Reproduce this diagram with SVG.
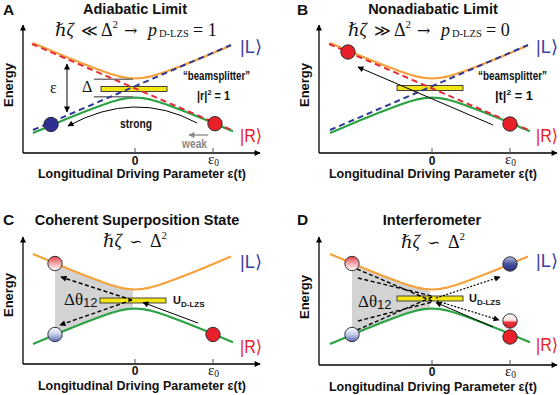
<svg xmlns="http://www.w3.org/2000/svg" xmlns:xlink="http://www.w3.org/1999/xlink" width="560" height="395" viewBox="0 0 560 395">
<style>
.sans{font-family:"Liberation Sans",Arial,sans-serif;font-weight:bold;fill:#111}
.ser{font-family:"Liberation Serif","DejaVu Serif",serif;fill:#111}
.sym{font-family:"DejaVu Serif","Liberation Serif",serif;font-size:16px}
.title{font-size:14.5px;text-anchor:middle}
.plet{font-size:15.5px}
.xl{font-size:12.5px;text-anchor:middle}
.en{font-size:13px;text-anchor:middle}
.ket{font-family:"Liberation Sans","DejaVu Sans",sans-serif;font-size:18px}
.kl{fill:#3b3f9c}
.kr{fill:#e8202a}
.ax{stroke:#000;stroke-width:1.3;fill:none}
.tick{stroke:#555;stroke-width:1}
.up{stroke:#f7a13c;stroke-width:2.2;fill:none;stroke-linejoin:round}
.lo{stroke:#2ca244;stroke-width:2.2;fill:none;stroke-linejoin:round}
.rd{stroke:#e82a35;stroke-width:2;stroke-dasharray:6 4;fill:none}
.bd{stroke:#2f3a96;stroke-width:2;stroke-dasharray:6 4;fill:none}
.bar{fill:#f3e612;stroke:#333;stroke-width:0.9}
.ball{stroke:#222;stroke-width:0.9}
.arr{stroke:#000;stroke-width:1;fill:none}
.darr{stroke:#000;stroke-width:1.4;fill:none;stroke-dasharray:4 2.5}
.dot{stroke:#000;stroke-width:1.2;fill:none;stroke-dasharray:2 1.6}
.shade{fill:#d3d3d3}
</style>
<defs>
<marker id="ah" viewBox="0 0 10 10" refX="9" refY="5" markerWidth="7" markerHeight="6" orient="auto-start-reverse" markerUnits="userSpaceOnUse"><path d="M0,0 L10,5 L0,10 z" fill="#000"/></marker>
<marker id="ahg" viewBox="0 0 10 10" refX="9" refY="5" markerWidth="7" markerHeight="6" orient="auto" markerUnits="userSpaceOnUse"><path d="M0,0 L10,5 L0,10 z" fill="#888"/></marker>
<marker id="axh" viewBox="0 0 10 10" refX="9" refY="5" markerWidth="8" markerHeight="6" orient="auto" markerUnits="userSpaceOnUse"><path d="M0,0 L10,5 L0,10 z" fill="#000"/></marker>
<path id="cUp" class="up" d="M-102,-44.9 L-90,-39.9 L-80,-35.7 L-70,-31.6 L-60,-27.5 L-50,-23.5 L-40,-19.7 L-32,-16.7 L-24,-14 L-16,-11.7 L-8,-10.1 L0,-9.5 L8,-10.1 L16,-11.7 L24,-14 L32,-16.7 L40,-19.7 L50,-23.5 L60,-27.5 L70,-31.6 L80,-35.7 L90,-39.9 L96,-42.4"/>
<path id="cLo" class="lo" d="M-102,44.9 L-90,39.9 L-80,35.7 L-70,31.6 L-60,27.5 L-50,23.5 L-40,19.7 L-32,16.7 L-24,14 L-16,11.7 L-8,10.1 L0,9.5 L8,10.1 L16,11.7 L24,14 L32,16.7 L40,19.7 L50,23.5 L60,27.5 L70,31.6 L80,35.7 L90,39.9 L98,43.2"/>
<path id="cShade" class="shade" d="M-80,-35.7 L-70,-31.6 L-60,-27.5 L-50,-23.5 L-40,-19.7 L-32,-16.7 L-24,-14 L-16,-11.7 L-8,-10.1 L-2,-9.5 L-2,9.5 L-8,10.1 L-16,11.7 L-24,14 L-32,16.7 L-40,19.7 L-50,23.5 L-60,27.5 L-70,31.6 L-80,35.7 Z"/>
<line id="cRd" class="rd" x1="-103" y1="-44" x2="99" y2="43"/>
<line id="cBd" class="bd" x1="-102" y1="42" x2="96" y2="-43"/>
<linearGradient id="gPink" x1="0" y1="0" x2="0" y2="1"><stop offset="0" stop-color="#e4404c"/><stop offset="0.55" stop-color="#f3b3b6"/><stop offset="1" stop-color="#ffffff"/></linearGradient>
<linearGradient id="gLblue" x1="0" y1="0" x2="0" y2="1"><stop offset="0" stop-color="#ffffff"/><stop offset="0.5" stop-color="#c3cbe8"/><stop offset="1" stop-color="#5466b0"/></linearGradient>
<linearGradient id="gHalf" x1="0" y1="0" x2="0" y2="1"><stop offset="0" stop-color="#ffffff"/><stop offset="0.45" stop-color="#fbe0e0"/><stop offset="0.6" stop-color="#e8323c"/><stop offset="1" stop-color="#e02030"/></linearGradient>
<linearGradient id="gDblue" x1="0" y1="0" x2="0" y2="1"><stop offset="0" stop-color="#b8bedc"/><stop offset="0.5" stop-color="#4a529f"/><stop offset="1" stop-color="#262c80"/></linearGradient>
</defs>

<!-- Panel A -->
<g id="panelA">
<text class="sans plet" x="3" y="15">A</text>
<text class="sans title" x="135" y="13.5">Adiabatic Limit</text>
<text class="ser" font-size="18" y="36"><tspan x="55" font-style="italic">ℏζ</tspan><tspan class="sym" x="81">≪</tspan><tspan x="101">Δ</tspan><tspan font-size="11" dy="-8">2</tspan><tspan class="sym" x="124" dy="8">→</tspan><tspan x="148" font-style="italic">p</tspan><tspan x="159" font-size="10.5" dy="1">D-LZS</tspan><tspan x="193" dy="-1">= 1</tspan></text>
<line class="ax" x1="23" y1="153" x2="23" y2="25" marker-end="url(#axh)"/>
<line class="ax" x1="23" y1="153" x2="260" y2="153" marker-end="url(#axh)"/>
<text class="sans en" transform="translate(13,85) rotate(-90)">Energy</text>
<line class="tick" x1="135" y1="148" x2="135" y2="153"/>
<line class="tick" x1="213" y1="148" x2="213" y2="153"/>
<text class="sans" font-size="12" x="135" y="164.5" text-anchor="middle">0</text>
<text class="ser" font-size="15" x="208" y="164">ε<tspan font-size="9.5" dy="2">0</tspan></text>
<text class="sans xl" x="142" y="178">Longitudinal Driving Parameter ε(t)</text>
<use href="#cUp" transform="translate(135,88)"/>
<use href="#cLo" transform="translate(135,88)"/>
<line x1="94" y1="79.3" x2="133" y2="79.3" stroke="#777" stroke-width="1.5"/>
<line x1="94" y1="96.7" x2="133" y2="96.7" stroke="#777" stroke-width="1.5"/>
<rect class="bar" x="101" y="86.5" width="66" height="5"/>
<use href="#cRd" transform="translate(135,88)"/>
<use href="#cBd" transform="translate(135,88)"/>
<circle class="ball" cx="51" cy="124.5" r="7.2" fill="#2e3192"/>
<circle class="ball" cx="215" cy="123.7" r="7.2" fill="#e8202a"/>
<line class="arr" x1="67" y1="64" x2="67" y2="112" marker-start="url(#ah)" marker-end="url(#ah)"/>
<path class="arr" d="M197,123 Q135,89.5 68,126" marker-end="url(#ah)"/>
<line x1="208" y1="135" x2="189" y2="135" stroke="#888" stroke-width="1.3" marker-end="url(#ahg)"/>
<text class="ser" font-size="16" x="50" y="93">ε</text>
<text class="ser" font-size="16" x="82" y="92">Δ</text>
<text class="sans" font-size="12" x="183" y="80" textLength="67" lengthAdjust="spacingAndGlyphs">“beamsplitter”</text>
<text class="sans" font-size="12" x="197" y="100" textLength="33" lengthAdjust="spacingAndGlyphs">|r|<tspan font-size="8" dy="-5">2</tspan><tspan dy="5"> = 1</tspan></text>
<text class="sans" font-size="12" x="120" y="128" textLength="32" lengthAdjust="spacingAndGlyphs">strong</text>
<text class="sans" font-size="12" x="182" y="148" style="fill:#888" textLength="25" lengthAdjust="spacingAndGlyphs">weak</text>
<text class="ket kl" x="240" y="53" textLength="22" lengthAdjust="spacingAndGlyphs">|L⟩</text>
<text class="ket kr" x="240" y="142" textLength="22" lengthAdjust="spacingAndGlyphs">|R⟩</text>
</g>

<!-- Panel B -->
<g id="panelB">
<text class="sans plet" x="297" y="15">B</text>
<text class="sans title" x="433" y="13.5">Nonadiabatic Limit</text>
<text class="ser" font-size="18" y="36"><tspan x="348" font-style="italic">ℏζ</tspan><tspan class="sym" x="374">≫</tspan><tspan x="394">Δ</tspan><tspan font-size="11" dy="-8">2</tspan><tspan class="sym" x="417" dy="8">→</tspan><tspan x="441" font-style="italic">p</tspan><tspan x="452" font-size="10.5" dy="1">D-LZS</tspan><tspan x="486" dy="-1">= 0</tspan></text>
<line class="ax" x1="319" y1="153" x2="319" y2="25" marker-end="url(#axh)"/>
<line class="ax" x1="319" y1="153" x2="557" y2="153" marker-end="url(#axh)"/>
<text class="sans en" transform="translate(309,85) rotate(-90)">Energy</text>
<line class="tick" x1="432" y1="148" x2="432" y2="153"/>
<line class="tick" x1="510" y1="148" x2="510" y2="153"/>
<text class="sans" font-size="12" x="432" y="164.5" text-anchor="middle">0</text>
<text class="ser" font-size="15" x="505" y="164">ε<tspan font-size="9.5" dy="2">0</tspan></text>
<text class="sans xl" x="433" y="178">Longitudinal Driving Parameter ε(t)</text>
<use href="#cUp" transform="translate(432,88)"/>
<use href="#cLo" transform="translate(432,88)"/>
<rect class="bar" x="397" y="85.5" width="66" height="5"/>
<use href="#cRd" transform="translate(432,88)"/>
<use href="#cBd" transform="translate(432,88)"/>
<circle class="ball" cx="348" cy="52" r="7.2" fill="#e8202a"/>
<circle class="ball" cx="510" cy="124" r="7.2" fill="#e8202a"/>
<line class="arr" x1="493" y1="125" x2="358" y2="67" marker-end="url(#ah)"/>
<text class="sans" font-size="12" x="478" y="80" textLength="69" lengthAdjust="spacingAndGlyphs">“beamsplitter”</text>
<text class="sans" font-size="12" x="495" y="100" textLength="38" lengthAdjust="spacingAndGlyphs">|t|<tspan font-size="8" dy="-5">2</tspan><tspan dy="5"> = 1</tspan></text>
<text class="ket kl" x="536" y="53" textLength="22" lengthAdjust="spacingAndGlyphs">|L⟩</text>
<text class="ket kr" x="536" y="142" textLength="22" lengthAdjust="spacingAndGlyphs">|R⟩</text>
</g>

<!-- Panel C -->
<g id="panelC">
<text class="sans plet" x="3" y="224.5">C</text>
<text class="sans title" x="137" y="224.5">Coherent Superposition State</text>
<text class="ser" font-size="18" y="247"><tspan x="103" font-style="italic">ℏζ</tspan><tspan class="sym" x="129">∽</tspan><tspan x="150">Δ</tspan><tspan font-size="11" dy="-8">2</tspan></text>
<line class="ax" x1="23" y1="364" x2="23" y2="237" marker-end="url(#axh)"/>
<line class="ax" x1="23" y1="364" x2="260" y2="364" marker-end="url(#axh)"/>
<text class="sans en" transform="translate(13,295) rotate(-90)">Energy</text>
<line class="tick" x1="135" y1="359" x2="135" y2="364"/>
<line class="tick" x1="213" y1="359" x2="213" y2="364"/>
<text class="sans" font-size="12" x="135" y="375" text-anchor="middle">0</text>
<text class="ser" font-size="15" x="208" y="375">ε<tspan font-size="9.5" dy="2">0</tspan></text>
<text class="sans xl" x="142" y="389.5">Longitudinal Driving Parameter ε(t)</text>
<use href="#cShade" transform="translate(135,299)"/>
<use href="#cUp" transform="translate(135,299)"/>
<use href="#cLo" transform="translate(135,299)"/>
<rect class="bar" x="100" y="298" width="66" height="5"/>
<circle class="ball" cx="55" cy="263.5" r="7.2" fill="url(#gPink)"/>
<circle class="ball" cx="55" cy="334.5" r="7.2" fill="url(#gLblue)"/>
<circle class="ball" cx="213" cy="334.5" r="7.2" fill="#e8202a"/>
<g id="connC">
<line class="darr" x1="132" y1="300" x2="61" y2="277" marker-end="url(#ah)"/>
<line class="darr" x1="132" y1="300" x2="60" y2="325" marker-end="url(#ah)"/>
<line class="arr" x1="198" y1="323" x2="143" y2="302.5" marker-end="url(#ah)"/>
</g>
<text class="ser" font-size="17" x="64" y="305">Δθ<tspan class="sans" style="font-weight:normal" font-size="13" dy="2">12</tspan></text>
<text class="sans" font-size="11" x="173" y="304">U<tspan font-size="8" dy="3">D-LZS</tspan></text>
<text class="ket kl" x="240" y="268" textLength="22" lengthAdjust="spacingAndGlyphs">|L⟩</text>
<text class="ket kr" x="240" y="353" textLength="22" lengthAdjust="spacingAndGlyphs">|R⟩</text>
</g>

<!-- Panel D -->
<g id="panelD">
<text class="sans plet" x="297" y="225">D</text>
<text class="sans title" x="432" y="225">Interferometer</text>
<text class="ser" font-size="18" y="248"><tspan x="401" font-style="italic">ℏζ</tspan><tspan class="sym" x="427">∽</tspan><tspan x="448">Δ</tspan><tspan font-size="11" dy="-8">2</tspan></text>
<line class="ax" x1="319" y1="365" x2="319" y2="237" marker-end="url(#axh)"/>
<line class="ax" x1="319" y1="365" x2="557" y2="365" marker-end="url(#axh)"/>
<text class="sans en" transform="translate(309,297) rotate(-90)">Energy</text>
<line class="tick" x1="432" y1="360" x2="432" y2="365"/>
<line class="tick" x1="510" y1="360" x2="510" y2="365"/>
<text class="sans" font-size="12" x="432" y="376" text-anchor="middle">0</text>
<text class="ser" font-size="15" x="505" y="376">ε<tspan font-size="9.5" dy="2">0</tspan></text>
<text class="sans xl" x="433" y="390.5">Longitudinal Driving Parameter ε(t)</text>
<use href="#cShade" transform="translate(432,299)"/>
<use href="#cUp" transform="translate(432,299)"/>
<use href="#cLo" transform="translate(432,299)"/>
<rect class="bar" x="397" y="296" width="66" height="5"/>
<g id="connD">
<line class="darr" x1="357" y1="269" x2="432" y2="301"/>
<line class="darr" x1="358" y1="278" x2="432" y2="296"/>
<line class="darr" x1="357" y1="330" x2="432" y2="297"/>
<line class="darr" x1="358" y1="321" x2="432" y2="302"/>
<line class="dot" x1="436" y1="298" x2="500" y2="277" marker-end="url(#ah)"/>
<line class="dot" x1="437" y1="301" x2="499" y2="320" marker-end="url(#ah)"/>
<line class="arr" x1="493" y1="327" x2="436" y2="302.5" marker-end="url(#ah)"/>
</g>
<circle class="ball" cx="352" cy="263.5" r="7.2" fill="url(#gPink)"/>
<circle class="ball" cx="352" cy="334.5" r="7.2" fill="url(#gLblue)"/>
<circle class="ball" cx="510" cy="264" r="7.2" fill="url(#gDblue)"/>
<circle class="ball" cx="510" cy="321" r="7.2" fill="url(#gHalf)"/>
<circle class="ball" cx="510" cy="337" r="7.2" fill="#e8202a"/>
<text class="ser" font-size="17" x="358" y="307">Δθ<tspan class="sans" style="font-weight:normal" font-size="13" dy="2">12</tspan></text>
<text class="sans" font-size="11" x="469" y="302">U<tspan font-size="8" dy="3">D-LZS</tspan></text>
<text class="ket kl" x="536" y="267" textLength="22" lengthAdjust="spacingAndGlyphs">|L⟩</text>
<text class="ket kr" x="536" y="351" textLength="22" lengthAdjust="spacingAndGlyphs">|R⟩</text>
</g>
</svg>
